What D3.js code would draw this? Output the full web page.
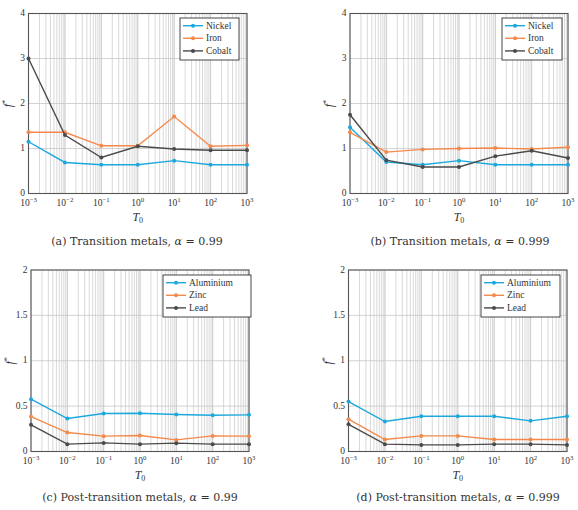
<!DOCTYPE html>
<html><head><meta charset="utf-8">
<script src="https://cdn.jsdelivr.net/npm/d3@7"></script>
<style>
body{margin:0;background:#fff;}
svg text{font-family:"Liberation Serif","DejaVu Serif",serif;fill:#333;}
svg text.cap{font-family:"DejaVu Serif",serif;}
</style></head>
<body><svg id="c" width="578" height="510"></svg>
<script>
const T0 = [1e-3, 1e-2, 1e-1, 1e0, 1e1, 1e2, 1e3];
const xTickExps = [-3, -2, -1, 0, 1, 2, 3];

const transitionNames = ["Nickel", "Iron", "Cobalt"];
const postNames = ["Aluminium", "Zinc", "Lead"];

// (a) Transition metals, alpha = 0.99
const a_nickel = [1.15, 0.69, 0.64, 0.64, 0.73, 0.64, 0.64];
const a_iron   = [1.36, 1.36, 1.06, 1.06, 1.71, 1.05, 1.07];
const a_cobalt = [3.0, 1.30, 0.80, 1.05, 0.99, 0.96, 0.96];
// (b) Transition metals, alpha = 0.999
const b_nickel = [1.47, 0.70, 0.64, 0.73, 0.64, 0.64, 0.64];
const b_iron   = [1.36, 0.92, 0.98, 1.00, 1.01, 0.99, 1.03];
const b_cobalt = [1.75, 0.74, 0.59, 0.59, 0.83, 0.95, 0.79];
// (c) Post-transition metals, alpha = 0.99
const c_aluminium = [0.576, 0.363, 0.418, 0.422, 0.407, 0.40, 0.404];
const c_zinc      = [0.385, 0.209, 0.169, 0.176, 0.128, 0.172, 0.169];
const c_lead      = [0.294, 0.081, 0.095, 0.081, 0.092, 0.081, 0.081];
// (d) Post-transition metals, alpha = 0.999
const d_aluminium = [0.55, 0.33, 0.389, 0.389, 0.389, 0.338, 0.389];
const d_zinc      = [0.356, 0.132, 0.172, 0.172, 0.132, 0.132, 0.132];
const d_lead      = [0.30, 0.081, 0.073, 0.073, 0.081, 0.081, 0.073];

const yTicksTop = [0, 1, 2, 3, 4];
const yTicksBottom = [0, 0.5, 1, 1.5, 2];
const captionPrefix = [
  "(a) Transition metals, ",
  "(b) Transition metals, ",
  "(c) Post-transition metals, ",
  "(d) Post-transition metals, "
];
const alphas = ["0.99", "0.999", "0.99", "0.999"];
const colors = ["#1ba9dd", "#f5894b", "#4a4a4a"];

const panels = [
  {x0:28.5, x1:247, y0:13.5, y1:193.5, ymax:4, yt:yTicksTop, names:transitionNames, series:[a_nickel,a_iron,a_cobalt], ci:0, capX:137, capY:245, leg:[180,18,59]},
  {x0:350, x1:568, y0:13.5, y1:193.5, ymax:4, yt:yTicksTop, names:transitionNames, series:[b_nickel,b_iron,b_cobalt], ci:1, capX:460, capY:245, leg:[502,18,60]},
  {x0:31, x1:249, y0:270, y1:451.5, ymax:2, yt:yTicksBottom, names:postNames, series:[c_aluminium,c_zinc,c_lead], ci:2, capX:140, capY:501, leg:[163,275,88]},
  {x0:348.5, x1:567, y0:270, y1:451.5, ymax:2, yt:yTicksBottom, names:postNames, series:[d_aluminium,d_zinc,d_lead], ci:3, capX:458, capY:501, leg:[481,275,79]}
];

const svg = d3.select("#c");

panels.forEach(p => {
  const g = svg.append("g");
  const x = d3.scaleLog().domain([1e-3, 1e3]).range([p.x0, p.x1]);
  const y = d3.scaleLinear().domain([0, p.ymax]).range([p.y1, p.y0]);

  // minor vertical grid
  const minor = [];
  for (let e = -3; e < 3; e++) for (let k = 1; k <= 10; k++) minor.push(k * Math.pow(10, e));
  g.append("g").selectAll("line").data(minor).join("line")
    .attr("x1", d => x(d)).attr("x2", d => x(d))
    .attr("y1", p.y0).attr("y2", p.y1)
    .attr("stroke", "#c8c8c8").attr("stroke-width", 0.7);
  // horizontal grid
  g.append("g").selectAll("line").data(p.yt).join("line")
    .attr("x1", p.x0).attr("x2", p.x1)
    .attr("y1", d => y(d)).attr("y2", d => y(d))
    .attr("stroke", "#c8c8c8").attr("stroke-width", 0.8);

  // frame
  g.append("rect").attr("x", p.x0).attr("y", p.y0)
    .attr("width", p.x1 - p.x0).attr("height", p.y1 - p.y0)
    .attr("fill", "none").attr("stroke", "#555").attr("stroke-width", 1.1);

  // x ticks
  const xt = g.append("g");
  xTickExps.forEach(e => {
    const t = xt.append("text").attr("x", x(Math.pow(10, e))).attr("y", p.y1 + 12.5)
      .attr("text-anchor", "middle").attr("font-size", 9.5);
    t.append("tspan").text("10");
    t.append("tspan").attr("dy", -3.8).attr("font-size", 6.8).text(String(e).replace("-", "−"));
  });
  g.append("text").attr("x", (p.x0 + p.x1) / 2).attr("y", p.y1 + 27)
    .attr("text-anchor", "middle").attr("font-size", 12).attr("font-style", "italic")
    .text("T").append("tspan").attr("font-size", 8).attr("font-style", "normal").attr("dy", 2.5).text("0");

  // y ticks
  g.append("g").selectAll("text").data(p.yt).join("text")
    .attr("x", p.x0 - 3.5).attr("y", d => y(d) + 2.5)
    .attr("text-anchor", "end").attr("font-size", 9.5)
    .text(d => String(d));
  const yl = g.append("text").attr("transform", `translate(${p.x0 - 17},${(p.y0 + p.y1) / 2}) rotate(-90)`)
    .attr("text-anchor", "middle").attr("font-size", 12).attr("font-style", "italic").text("f");
  yl.append("tspan").attr("font-size", 8).attr("dy", -4).attr("font-style", "normal").text("*");

  // lines
  const line = d3.line().x((d, i) => x(T0[i])).y(d => y(d));
  p.series.forEach((s, si) => {
    g.append("path").datum(s).attr("d", line).attr("fill", "none")
      .attr("stroke", colors[si]).attr("stroke-width", 1.4);
    g.append("g").selectAll("circle").data(s).join("circle")
      .attr("cx", (d, i) => x(T0[i])).attr("cy", d => y(d)).attr("r", 2)
      .attr("fill", colors[si]);
  });

  // legend
  const [lx, ly, lw] = p.leg;
  const lg = g.append("g");
  lg.append("rect").attr("x", lx).attr("y", ly).attr("width", lw).attr("height", 42)
    .attr("fill", "#fff").attr("stroke", "#333").attr("stroke-width", 0.9);
  p.names.forEach((n, i) => {
    const yy = ly + 7.7 + i * 12.6;
    lg.append("line").attr("x1", lx + 3).attr("x2", lx + 23).attr("y1", yy).attr("y2", yy)
      .attr("stroke", colors[i]).attr("stroke-width", 1.4);
    lg.append("circle").attr("cx", lx + 13).attr("cy", yy).attr("r", 2).attr("fill", colors[i]);
    lg.append("text").attr("x", lx + 26).attr("y", yy + 3).attr("font-size", 9.5).text(n);
  });

  // caption
  const cap = g.append("text").attr("class", "cap").attr("x", p.capX).attr("y", p.capY)
    .attr("text-anchor", "middle").attr("font-size", 11);
  cap.append("tspan").text(captionPrefix[p.ci]);
  cap.append("tspan").attr("font-style", "italic").text("α");
  cap.append("tspan").text(" = " + alphas[p.ci]);
});
</script></body></html>
